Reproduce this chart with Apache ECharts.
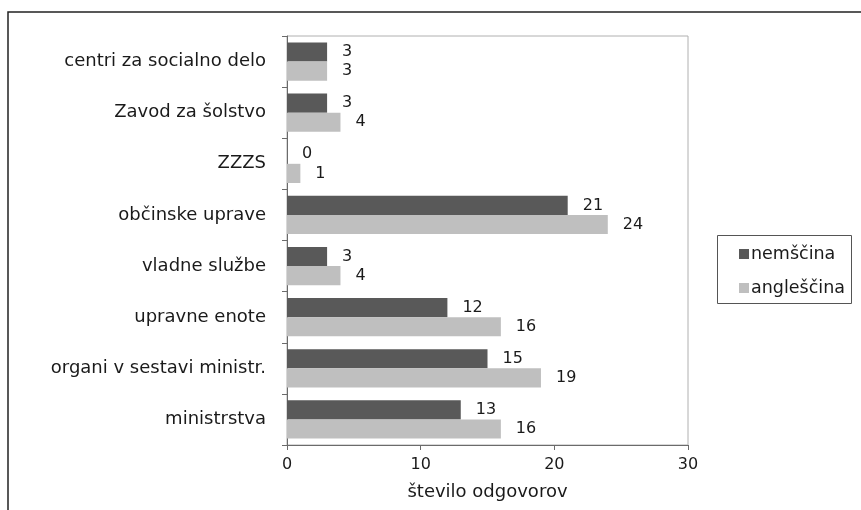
<!DOCTYPE html>
<html>
<head>
<meta charset="utf-8">
<script src="https://cdn.jsdelivr.net/npm/echarts@6/dist/echarts.min.js"></script>
<style>
  html, body { margin: 0; padding: 0; background: #fff; }
  #chart { width: 861px; height: 510px; }
</style>
</head>
<body>
<div id="chart"></div>
<script>
// Categories listed top to bottom
const categories = [
  'centri za socialno delo',
  'Zavod za šolstvo',
  'ZZZS',
  'občinske uprave',
  'vladne službe',
  'upravne enote',
  'organi v sestavi ministr.',
  'ministrstva'
];
const nemscina = [3, 3, 0, 21, 3, 12, 15, 13];
const anglescina = [3, 4, 1, 24, 4, 16, 19, 16];
const seriesNames = ['nemščina', 'angleščina'];
const xTicks = [0, 10, 20, 30];
const axisTitle = 'število odgovorov';

const FONT = '"DejaVu Sans"';
const TEXT = '#1a1a1a';
const chart = echarts.init(document.getElementById('chart'), null, { renderer: 'canvas' });

const valueLabel = {
  show: true,
  position: 'right',
  distance: 15,
  color: TEXT,
  fontFamily: FONT,
  fontSize: 16
};

chart.setOption({
  animation: false,
  textStyle: { fontFamily: FONT },
  graphic: [
    // outer frame
    { type: 'rect', shape: { x: 8, y: 12, width: 1000, height: 600 },
      style: { fill: 'none', stroke: '#222', lineWidth: 1.5 }, z: 0 },
    // plot area border
    { type: 'rect', shape: { x: 287, y: 36, width: 401, height: 409 },
      style: { fill: 'none', stroke: '#b0b0b0', lineWidth: 1 }, z: 0 },
    // legend box
    { type: 'rect', shape: { x: 717.5, y: 235.5, width: 134, height: 68 },
      style: { fill: '#fff', stroke: '#555', lineWidth: 1 }, z: 1 }
  ],
  legend: {
    data: seriesNames,
    orient: 'vertical',
    left: 734,
    top: 240,
    icon: 'rect',
    itemWidth: 10,
    itemHeight: 10,
    itemGap: 16,
    z: 5,
    textStyle: { fontFamily: FONT, fontSize: 17.5, color: TEXT, padding: [0, 0, 0, -3] }
  },
  grid: { left: 287, right: 173, top: 36, bottom: 65, containLabel: false },
  xAxis: {
    type: 'value',
    min: xTicks[0],
    max: xTicks[xTicks.length - 1],
    interval: 10,
    name: axisTitle,
    nameLocation: 'middle',
    nameGap: 38,
    nameTextStyle: { fontFamily: FONT, fontSize: 18, color: TEXT },
    axisLine: { show: true, lineStyle: { color: '#6b6b6b', width: 1 } },
    axisTick: { show: true, length: 5, lineStyle: { color: '#6b6b6b' } },
    axisLabel: { fontFamily: FONT, fontSize: 16, color: TEXT, margin: 12 },
    splitLine: { show: false }
  },
  yAxis: {
    type: 'category',
    data: categories,
    inverse: true,
    axisLine: { show: true, lineStyle: { color: '#6b6b6b', width: 1 } },
    axisTick: { show: true, length: 5, lineStyle: { color: '#6b6b6b' } },
    axisLabel: { fontFamily: FONT, fontSize: 18, color: TEXT, margin: 21 }
  },
  series: [
    { name: seriesNames[0], type: 'bar', data: nemscina, barGap: '0%', barCategoryGap: '25%',
      itemStyle: { color: '#595959' }, label: valueLabel },
    { name: seriesNames[1], type: 'bar', data: anglescina, barGap: '0%', barCategoryGap: '25%',
      itemStyle: { color: '#bfbfbf' }, label: valueLabel }
  ]
});
</script>
</body>
</html>
